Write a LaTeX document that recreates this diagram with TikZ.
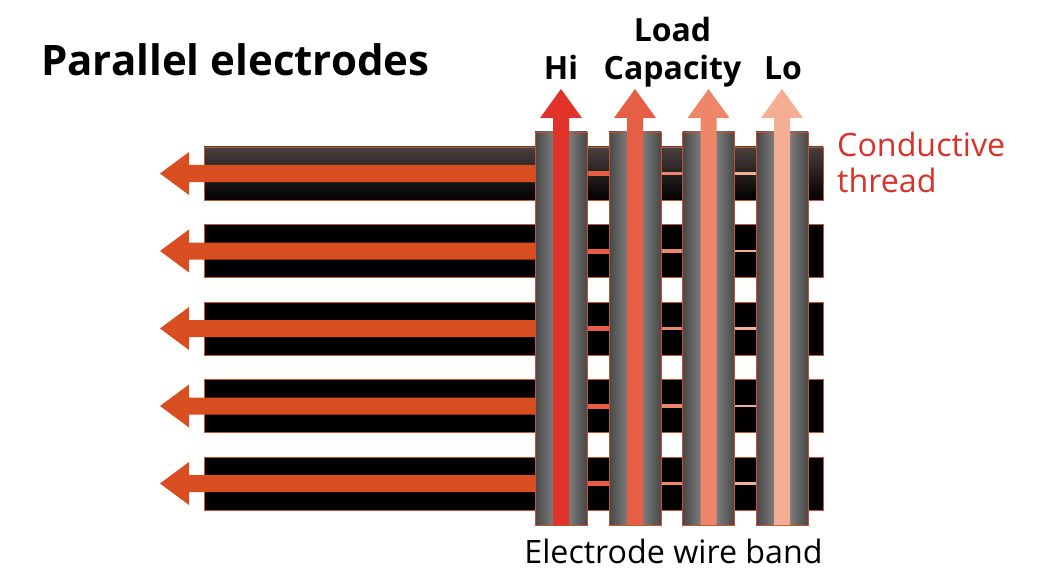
\documentclass[tikz,border=0pt]{standalone}
\usepackage{fontspec}
\setmainfont{Open Sans}
\definecolor{harrow}{HTML}{D84E20}
\definecolor{va}{HTML}{E2332A}
\definecolor{vb}{HTML}{E65F45}
\definecolor{vc}{HTML}{EE8769}
\definecolor{vd}{HTML}{F3AE93}
\definecolor{edgeor}{HTML}{C8532B}
\definecolor{bandtop}{HTML}{4A403E}
\definecolor{threadred}{HTML}{D8322A}
\definecolor{coldark}{HTML}{474747}
\definecolor{collight}{HTML}{939393}
\begin{document}
\begin{tikzpicture}[x=1pt,y=-1pt,
  bandbox/.style={draw=edgeor,line width=0.8pt},
  colbox/.style={left color=coldark,right color=coldark,middle color=collight,draw=edgeor,line width=0.6pt},
  lbl/.style={font=\bfseries\fontsize{32}{36}\selectfont,anchor=base},
  note/.style={font=\fontsize{32.2}{36}\selectfont}]
\useasboundingbox (0,0) rectangle (1040,580);
% bands
\shade[bandbox,top color=bandtop,middle color=bandtop!80!black,bottom color=black] (204,147) rectangle (823,200);
\foreach \i in {1,...,4} {
  \pgfmathsetmacro\t{147+77.5*\i}
  \fill[black] (204,\t) rectangle (823,\t+53);
  \draw[bandbox] (204,\t) rectangle (823,\t+53);
}
% thin thread lines and horizontal arrows
\foreach \i in {0,...,4} {
  \pgfmathsetmacro\c{173.5+77.5*\i}
  \fill[vb] (587,\c-2.5) rectangle (609,\c+2.5);
  \fill[vc] (660,\c-1.6) rectangle (682,\c+1.6);
  \fill[vd] (734,\c-1.2) rectangle (756,\c+1.2);
  \fill[harrow] (537,\c-8.5) -- (189,\c-8.5) -- (189,\c-21.5) -- (160,\c)
     -- (189,\c+21.5) -- (189,\c+8.5) -- (537,\c+8.5) -- cycle;
}
% columns and vertical arrows
\foreach \x/\col in {535/va,609/vb,682.5/vc,756/vd} {
  \shade[colbox] (\x,132) rectangle (\x+52,525);
  \pgfmathsetmacro\m{\x+26}
  \fill[\col] (\m-8,525) -- (\m-8,118) -- (\m-21,118) -- (\m,89)
     -- (\m+21,118) -- (\m+8,118) -- (\m+8,525) -- cycle;
}
% texts
\node[font=\bfseries\fontsize{42}{48}\selectfont,anchor=base west,inner sep=0pt] (title) at (41,76) {Parallel electrodes};
\node[lbl] (hi) at (561,80) {Hi};
\node[lbl] (load) at (672.5,42) {Load};
\node[lbl] (cap) at (672.5,80) {Capacity};
\node[lbl] (lo) at (783,80) {Lo};
\node[note,text=threadred,anchor=base west,inner sep=0pt] (cond) at (837,157) {Conductive};
\node[note,text=threadred,anchor=base west,inner sep=0pt] (thr) at (837,192) {thread};
\node[note,anchor=base,inner sep=0pt] (ewb) at (673.5,563) {Electrode wire band};
\end{tikzpicture}
\end{document}
